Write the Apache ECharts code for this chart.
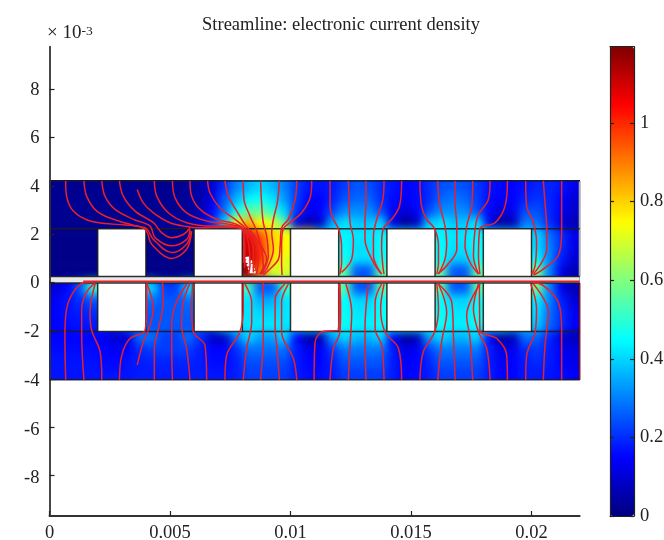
<!DOCTYPE html>
<html><head><meta charset="utf-8">
<style>html,body{margin:0;padding:0;background:#fff}#c{width:664px;height:540px}</style>
<script src="https://cdn.jsdelivr.net/npm/echarts@6/dist/echarts.min.js"></script>
</head><body><div id="c"></div>
<script>
const titleText = 'Streamline: electronic current density';
const xTicks = [0, 5, 10, 15, 20];
const xTickLabels = ['0', '0.005', '0.01', '0.015', '0.02'];
const yTicks = [-8, -6, -4, -2, 0, 2, 4, 6, 8];
const cbTicks = [0, 0.2, 0.4, 0.6, 0.8, 1];
const jet = ['#00007f','#0000ff','#007fff','#00ffff','#7fff7f','#ffff00','#ff7f00','#ff0000','#7f0000'];
const cbMax = 1.194;

// field strength (percent of 1), 0.5 wide cells, one list per row, top to bottom
const rowEdges = [4.2,3.7,3.2,2.7,2.2,1.71,1.23,0.74,0.12,-0.5,-1,-1.5,-2.04,-2.54,-3.04,-3.54,-4.04];
const row01 = [2,2,2,2, 2,2,2,2, 2,2,2,3, 5,10,20,30, 36,40,36,30, 22,17,17,18, 22,25,24,20, 17,15,16,20, 24,25,24,21, 17,15,15,17, 19,19,17,13];
const row02 = [2,2,2,2, 2,2,2,2, 2,2,2,3, 5,12,25,36, 44,46,42,33, 22,15,15,19, 25,27,27,20, 16,14,16,20, 27,29,27,22, 16,14,15,19, 21,19,15,10];
const row03 = [2,2,2,2, 2,2,2,2, 2,2,2,3, 6,14,28,46, 56,56,50,40, 20,13,15,23, 31,32,31,24, 14,10,14,24, 31,32,31,24, 15,10,13,24, 24,19,14,9];
const row04 = [2,2,2,2, 2,2,2,2, 3,3,3,4, 8,20,40,75, 85,75,72,55, 12,5,8,35, 42,38,38,40, 12,2,8,38, 42,38,38,42, 12,3,6,30, 28,20,10,6];
const row05 = [1,1,1,1, 1,1,1,1, 1,1,1,1, 2,2,108,108, 108,95,80,75, 75,75,44,44, 44,42,42,44, 44,44,44,44, 44,42,42,44, 44,44,40,40, 40,28,20,13];
const row06 = [1,1,1,1, 1,1,1,1, 1,1,1,1, 2,2,110,110, 110,100,80,75, 75,75,45,45, 45,41,41,45, 45,45,45,45, 45,41,41,45, 45,45,40,40, 40,30,20,12];
const row07 = [1,1,1,1, 1,1,1,1, 1,1,1,1, 2,2,112,112, 112,100,78,72, 72,72,46,46, 46,41,41,46, 46,46,46,46, 46,39,39,46, 46,46,44,44, 44,30,18,10];
const row08 = [1,1,1,1, 1,1,1,1, 1,1,1,1, 2,2,115,115, 115,90,70,70, 70,70,55,55, 55,25,25,55, 55,55,55,55, 55,25,25,55, 55,55,58,58, 58,30,12,6];
const row09 = [10,15,25,50, 50,50,40,40, 40,22,22,40, 40,40,52,52, 52,25,25,52, 52,52,55,55, 55,25,25,55, 55,55,55,55, 55,25,25,55, 55,55,58,58, 58,30,12,6];
const row10 = [14,17,20,25, 25,25,28,28, 28,25,25,28, 28,28,42,42, 42,35,35,42, 42,42,45,45, 45,40,40,45, 45,45,45,45, 45,40,40,45, 45,45,42,42, 42,30,18,10];
const row11 = [15,17,18,20, 20,20,25,25, 25,25,25,26, 26,26,42,42, 42,40,40,42, 42,42,46,46, 46,42,42,46, 46,46,46,46, 46,42,42,46, 46,46,40,40, 40,28,20,13];
const row12 = [15,16,17,18, 18,18,25,25, 25,25,25,25, 25,25,42,42, 42,42,42,42, 42,42,46,46, 46,43,43,46, 46,46,46,46, 46,43,43,46, 46,46,38,38, 38,27,20,14];
const row13 = [15,15,15,15, 14,8,10,28, 28,22,22,28, 20,8,7,28, 40,33,33,40, 15,4,6,33, 40,36,36,40, 15,3,6,33, 40,36,36,40, 15,3,6,28, 26,19,10,7];
const row14 = [16,16,16,16, 15,14,15,20, 22,22,22,22, 18,15,15,20, 28,28,28,28, 18,13,14,22, 29,29,29,29, 18,12,14,22, 29,29,29,29, 18,12,13,20, 22,18,14,11];
const row15 = [17,17,17,17, 16,15,17,18, 19,19,19,19, 18,16,16,18, 24,24,24,24, 18,15,15,19, 25,25,25,25, 18,14,15,19, 25,25,25,25, 18,14,15,18, 20,18,15,12];
const row16 = [17,17,17,17, 17,17,17,18, 18,18,18,18, 18,17,17,18, 22,22,22,22, 18,16,16,18, 22,22,22,22, 18,15,16,18, 22,22,22,22, 18,15,15,18, 18,17,16,14];
const fieldRows = [row01,row02,row03,row04,row05,row06,row07,row08,row09,row10,row11,row12,row13,row14,row15,row16];

// white blocks [x0, x1, yBottom, yTop]
const windowXs = [[2,4],[6,8],[10,12],[14,16],[18,20]];
const upperSlot = [0.24, 2.22];
const gapSlot = [-0.03, 0.24];
const lowerSlot = [-2.04, -0.03];

const horizontalLevels = [4.2, 2.22, 0.24, -0.03, -2.04, -4.04];
const wallXs = [2,4,6,8,10,12,14,16,18,20];
const gapLine = [[1.4,0.04],[22,0.04]];
const rightTop = [[22,4.2],[22,0.24]];
const rightBottom = [[22,-0.03],[22,-4.04]];
const hotSwirl = [[8.1,1.0],[8.3,1.02],[8.15,0.85],[8.4,0.87],[8.2,0.7],[8.47,0.72],[8.25,0.55],[8.5,0.57],[8.3,0.42],[8.55,0.42]];

const topLines = [
[[0.67,4.2],[0.71,3.57],[0.99,2.95],[1.68,2.54],[2.79,2.4],[3.76,2.3],[4.03,2.12],[4.24,1.58],[5.07,0.99],[5.69,1.37],[5.9,2.12]],
[[1.43,4.2],[1.54,3.57],[1.96,2.95],[2.65,2.61],[3.62,2.33],[4.03,2.22],[4.31,1.78],[5.07,1.23],[5.69,1.58],[5.87,2.12]],
[[2.17,4.2],[2.3,3.57],[2.72,3.02],[3.48,2.61],[4.17,2.33],[4.38,1.85],[5.07,1.51],[5.69,1.78],[5.83,2.2]],
[[2.9,4.2],[3.06,3.57],[3.55,2.95],[4.31,2.47],[4.65,2.06],[5.07,1.85],[5.55,1.98],[5.83,2.26]],
[[3.64,3.84],[3.89,3.29],[4.31,2.88],[5,2.47],[5.69,2.31],[6.25,2.26],[7.2,2.28],[8.02,2.2],[8.06,1.5],[8.05,0.8]],
[[4.35,4.2],[4.45,3.57],[4.93,2.88],[5.69,2.47],[6.8,2.33],[7.77,2.33],[8.04,2.12],[8.1,1.4],[8.1,0.6]],
[[5.1,4.2],[5.21,3.5],[5.69,2.88],[6.52,2.54],[7.49,2.4],[8.04,2.22],[8.25,1.65],[8.32,0.685],[8.25,0.34]],
[[5.83,4.2],[5.9,3.57],[6.25,3.02],[6.94,2.61],[7.77,2.4],[8.18,2.06],[8.46,1.37],[8.46,0.41]],
[[6.56,4.2],[6.66,3.7],[7.07,3.09],[7.7,2.61],[8.11,2.26],[8.46,1.78],[8.67,1.1],[8.6,0.34]],
[[7.28,4.2],[7.42,3.57],[7.77,2.95],[8.11,2.4],[8.6,1.78],[9.01,0.96],[8.73,0.34]],
[[8.04,4.2],[8.07,3.43],[8.32,2.74],[8.6,2.12],[8.8,1.37],[8.87,0.685],[8.73,0.34]],
[[8.76,4.2],[8.8,3.29],[8.87,2.47],[9.01,1.92],[9.08,1.1],[8.8,0.34]],
[[9.54,4.2],[9.45,3.29],[9.29,2.61],[9.22,2.06],[9.29,1.37],[9.01,0.55],[8.8,0.34]],
[[10.26,4.2],[10.19,3.43],[9.91,2.61],[9.63,2.26],[9.57,1.51],[9.5,0.96],[9.15,0.55],[8.87,0.3]],
[[10.88,4.2],[10.81,3.5],[10.46,2.88],[9.98,2.47],[9.7,2.22],[9.63,1.51],[9.63,0.8],[9.65,0.3]],
[[11.64,4.2],[11.64,3.15],[11.78,2.61],[11.99,2.22],[12.12,1.51],[12.12,0.82],[12.05,0.34]],
[[12.4,4.2],[12.44,3.29],[12.47,2.47],[12.61,1.78],[12.54,0.96],[12.12,0.41]],
[[13.13,4.2],[13.13,3.29],[13.09,2.47],[13.09,1.78],[13.44,0.82],[13.78,0.34]],
[[13.88,4.2],[13.83,3.43],[13.58,2.61],[13.44,1.92],[13.44,1.1],[13.78,0.34]],
[[14.61,4.2],[14.52,3.15],[14.2,2.61],[13.85,2.22],[13.78,1.51],[13.83,0.685],[13.88,0.34]],
[[15.37,4.2],[15.44,3.15],[15.65,2.61],[15.98,2.22],[16.14,1.51],[16.14,0.82],[16.07,0.34]],
[[16.11,4.2],[16.18,3.29],[16.41,2.33],[16.48,1.65],[16.41,0.96],[16.14,0.34]],
[[16.83,4.2],[16.83,3.29],[16.9,2.33],[16.9,1.37],[16.48,0.685],[16.14,0.37]],
[[17.56,4.2],[17.52,3.15],[17.31,2.33],[17.24,1.51],[17.45,0.82],[17.8,0.34]],
[[18.28,4.2],[18.21,3.43],[17.8,2.81],[17.66,2.22],[17.59,1.1],[17.8,0.34]],
[[19,4.2],[18.9,3.15],[18.49,2.47],[17.86,2.22],[17.8,1.1],[17.86,0.34]],
[[19.76,4.2],[19.8,3.15],[20.08,2.47],[20.21,1.65],[20.15,0.685],[20.01,0.34]],
[[20.49,4.2],[20.56,3.29],[20.63,2.22],[20.63,1.37],[20.08,0.34]],
[[21.25,4.2],[21.25,3.29],[21.25,2.06],[21.11,1.1],[20.49,0.55],[20.08,0.3]]
];
const bottomLines = [
[[0.67,-4.04],[0.64,-2.2],[0.71,-1.1],[0.99,-0.41],[1.4,-0.03],[1.82,0]],
[[1.43,-4.04],[1.335,-2.2],[1.335,-1.1],[1.54,-0.41],[1.89,-0.03]],
[[2.17,-4.04],[2.1,-2.88],[1.75,-1.99],[1.68,-1.24],[1.89,-0.07]],
[[2.9,-4.04],[3.0,-3.02],[3.34,-2.33],[3.96,-2.0],[4.03,-1.1],[4.03,-0.07]],
[[3.64,-3.43],[3.89,-2.47],[4.1,-1.99],[4.31,-1.1],[4.03,-0.03]],
[[4.35,-4.04],[4.35,-2.74],[4.52,-1.92],[4.72,-0.82],[4.69,-0.03]],
[[5.1,-4.04],[5.07,-2.74],[5.07,-1.78],[5.21,-0.96],[5.69,-0.07]],
[[5.83,-4.04],[5.69,-2.74],[5.48,-1.78],[5.55,-0.82],[5.83,-0.03]],
[[6.52,-4.04],[6.45,-2.61],[5.97,-2.06],[5.9,-1.1],[5.94,-0.07]],
[[7.28,-4.04],[7.35,-3.02],[7.9,-2.06],[8.04,-1.1],[8.04,-0.07]],
[[8.04,-4.04],[8.18,-2.74],[8.39,-1.65],[8.39,-0.82],[8.11,-0.07]],
[[8.76,-4.04],[8.87,-2.2],[8.87,-0.03]],
[[9.54,-4.04],[9.45,-2.88],[9.36,-1.78],[9.36,-0.69],[9.77,-0.07]],
[[10.26,-4.04],[10.12,-3.16],[9.63,-2.06],[9.63,-0.82],[9.91,-0.07]],
[[10.98,-4.04],[11.02,-2.47],[11.36,-2.03],[11.98,-1.98],[12.02,-0.5],[12.0,-0.07]],
[[11.64,-4.04],[11.78,-2.74],[12.05,-2.06],[12.08,-1.1],[12.05,-0.07]],
[[12.4,-4.04],[12.47,-2.61],[12.54,-1.24],[12.3,-0.07]],
[[13.13,-4.04],[13.09,-1.92],[13.23,-0.07]],
[[13.88,-4.04],[13.78,-2.61],[13.51,-1.92],[13.51,-0.82],[13.78,-0.07]],
[[14.61,-4.04],[14.48,-2.74],[13.92,-2.06],[13.74,-1.1],[13.88,-0.07]],
[[15.37,-4.04],[15.51,-2.88],[15.98,-2.06],[16.14,-1.1],[16.07,-0.07]],
[[16.11,-4.04],[16.27,-2.47],[16.48,-1.24],[16.14,-0.07]],
[[16.83,-4.04],[16.76,-2.2],[16.69,-0.82],[16.14,-0.07]],
[[17.56,-4.04],[17.45,-2.33],[17.31,-1.37],[17.45,-0.82],[17.86,-0.07]],
[[18.28,-4.04],[18.14,-2.74],[17.8,-2.06],[17.59,-1.1],[17.8,-0.07]],
[[19,-4.04],[18.97,-3.02],[18.56,-2.33],[17.86,-1.99],[17.84,-0.07]],
[[19.76,-4.04],[19.8,-3.02],[20.15,-2.06],[20.21,-1.1],[19.97,-0.07]],
[[20.49,-4.04],[20.56,-2.61],[20.7,-1.24],[20.08,-0.07]],
[[21.25,-4.04],[21.25,-1.92],[21.11,-0.82],[20.49,-0.14],[20.01,0]]
];

const cellW = 0.5;
const font = '"Liberation Serif","Times New Roman",serif';
const ink = '#222';
const red = '#e8202a';

const fieldCells = [];
fieldRows.forEach((row, r) => row.forEach((v, c) => {
  fieldCells.push([c * cellW, (c + 1) * cellW, rowEdges[r + 1], rowEdges[r], v / 100, r, c]);
}));
const whiteBlocks = [];
windowXs.forEach(w => {
  whiteBlocks.push([w[0], w[1], upperSlot[0], upperSlot[1]]);
  whiteBlocks.push([w[0], w[1], lowerSlot[0], lowerSlot[1]]);
});
const gapFill = [[0, 22, gapSlot[0], gapSlot[1]]];
const frameSegs = [];
horizontalLevels.forEach(y => frameSegs.push([0, y, 22, y]));
wallXs.forEach(x => {
  frameSegs.push([x, upperSlot[0], x, upperSlot[1]]);
  frameSegs.push([x, lowerSlot[0], x, lowerSlot[1]]);
});

const rectOf = (api, x0, x1, y0, y1) => {
  const a = api.coord([x0, y1]), b = api.coord([x1, y0]);
  return { x: a[0], y: a[1], width: b[0] - a[0], height: b[1] - a[1] };
};
const PAD = 16;
const lineSeries = (data, color, width, z, smooth) => ({
  type: 'line', xAxisIndex: 0, yAxisIndex: 0, data, symbol: 'none', silent: true, animation: false,
  smooth: smooth ? 0.35 : false, z, lineStyle: { color, width }, clip: true
});
const rectSeries = (data, fill, z) => ({
  type: 'custom', xAxisIndex: 0, yAxisIndex: 0, silent: true, z, animation: false, clip: false,
  data, encode: { x: [0, 1], y: [2, 3] },
  renderItem: (params, api) => ({ type: 'rect',
    shape: rectOf(api, api.value(0), api.value(1), api.value(2), api.value(3)),
    style: { fill } })
});
const barAxisLine = { onZero: false, lineStyle: { color: ink, width: 1.2 } };
const dropToken = v => v > 0 ? 'a' : v === 0 ? 'b' : v > -5 ? 'c' : v > -7 ? 'd' : 'e';
const labelRich = k => ({ fontFamily: font, fontSize: 18.5, color: ink, padding: [k, 0, 0, 0] });

const chart = echarts.init(document.getElementById('c'), null, { renderer: 'canvas' });
chart.setOption({
  animation: false,
  backgroundColor: 'transparent',
  title: [
    { text: titleText, left: 336, top: 11, textAlign: 'center',
      textStyle: { fontFamily: font, fontSize: 18.5, fontWeight: 'normal', color: ink } },
    { text: '× 10{s|-3}', left: 42, top: 19,
      textStyle: { fontFamily: font, fontSize: 19, fontWeight: 'normal', color: ink,
        rich: { s: { fontFamily: font, fontSize: 13.5, color: ink, verticalAlign: 'top', lineHeight: 16, padding: [0,0,7,0] } } } }
  ],
  grid: [
    { left: 49.5, top: 46.7, width: 530.2, height: 469.3, outerBoundsMode: 'none' },
    { left: 610, top: 46.7, width: 24, height: 469.3, outerBoundsMode: 'none' }
  ],
  xAxis: [
    { type: 'value', gridIndex: 0, min: 0, max: 22, splitLine: { show: false },
      axisLine: { onZero: false, lineStyle: { color: '#333', width: 1.8 } },
      axisTick: { inside: true, length: 5, customValues: xTicks, lineStyle: { color: ink, width: 1.2 } },
      axisLabel: { customValues: xTicks, margin: 8, fontFamily: font, fontSize: 18.5, color: ink,
        formatter: v => xTickLabels[xTicks.indexOf(v)] }, z: 10 },
    { type: 'value', gridIndex: 1, min: 0, max: 1, position: 'bottom', axisLine: barAxisLine,
      axisTick: { show: false }, axisLabel: { show: false }, splitLine: { show: false }, z: 10 },
    { type: 'value', gridIndex: 1, min: 0, max: 1, position: 'top', axisLine: barAxisLine,
      axisTick: { show: false }, axisLabel: { show: false }, splitLine: { show: false }, z: 10 }
  ],
  yAxis: [
    { type: 'value', gridIndex: 0, min: -9.68, max: 9.76, splitLine: { show: false },
      axisLine: { onZero: false, lineStyle: { color: '#333', width: 1.8 } },
      axisTick: { inside: true, length: 5, customValues: yTicks, lineStyle: { color: ink, width: 1.2 } },
      axisLabel: { customValues: yTicks, margin: 10, fontFamily: font, fontSize: 18.5, color: ink,
        formatter: v => { const n = Math.round(v); return `{${dropToken(n)}|${n}}`; },
        rich: { a: labelRich(2), b: labelRich(2), c: labelRich(4), d: labelRich(6), e: labelRich(6) } }, z: 10 },
    { type: 'value', gridIndex: 1, min: 0, max: cbMax, position: 'right', splitLine: { show: false },
      axisLine: barAxisLine,
      axisTick: { inside: true, length: 4, customValues: cbTicks, lineStyle: { color: ink, width: 1.2 } },
      axisLabel: { customValues: cbTicks, margin: 6, fontFamily: font, fontSize: 18.5, color: ink,
        formatter: v => String(Math.round(v * 10) / 10) }, z: 10 },
    { type: 'value', gridIndex: 1, min: 0, max: cbMax, position: 'left', splitLine: { show: false },
      axisLine: barAxisLine,
      axisTick: { inside: true, length: 4, customValues: cbTicks, lineStyle: { color: ink, width: 1.2 } },
      axisLabel: { show: false }, z: 10 }
  ],
  visualMap: {
    type: 'continuous', seriesIndex: 0, dimension: 4, min: 0, max: cbMax, calculable: false, hoverLink: false,
    left: 610, top: 46.7, itemWidth: 24, itemHeight: 469.3, padding: 0, text: null, showLabel: false,
    inRange: { color: jet }
  },
  series: [
    { type: 'custom', xAxisIndex: 0, yAxisIndex: 0, zlevel: -1, silent: true, clip: false, animation: false,
      data: fieldCells, encode: { x: [0, 1], y: [2, 3] },
      renderItem: (params, api) => {
        const r = rectOf(api, api.value(0), api.value(1), api.value(2), api.value(3));
        const row = api.value(5), col = api.value(6);
        if (row === 0) { r.y -= PAD; r.height += PAD; }
        if (row === fieldRows.length - 1) r.height += PAD;
        if (col === 0) { r.x -= PAD; r.width += PAD; }
        if (col === fieldRows[0].length - 1) r.width += PAD;
        r.width += 0.5; r.height += 0.5;
        return { type: 'rect', shape: r, style: { fill: api.visual('color') } };
      } },
    rectSeries(whiteBlocks, '#fff', 3),
    rectSeries(gapFill, '#e9e9e9', 3),
    lineSeries(gapLine, red, 1.6, 4),
    lineSeries(rightTop, '#aaa', 2, 4),
    lineSeries(rightBottom, '#8a0f14', 1.5, 4),
    { type: 'custom', xAxisIndex: 0, yAxisIndex: 0, silent: true, z: 5, animation: false, clip: false,
      data: frameSegs, encode: { x: [0, 2], y: [1, 3] },
      renderItem: (params, api) => {
        const a = api.coord([api.value(0), api.value(1)]), b = api.coord([api.value(2), api.value(3)]);
        return { type: 'line', shape: { x1: a[0], y1: a[1], x2: b[0], y2: b[1] },
          style: { stroke: '#1c1c1c', lineWidth: 1.5, opacity: 0.9 } };
      } },
    lineSeries(hotSwirl, '#fff', 2.2, 6),
    ...topLines.map(d => lineSeries(d, red, 1.5, 7, true)),
    ...bottomLines.map(d => lineSeries(d, red, 1.5, 7, true))
  ]
});

const fieldCanvas = document.querySelector('canvas[data-zr-dom-id="zr_-1"]') || document.querySelectorAll('#c canvas')[0];
const tl = chart.convertToPixel({ gridIndex: 0 }, [0, horizontalLevels[0]]);
const br = chart.convertToPixel({ gridIndex: 0 }, [22, horizontalLevels[horizontalLevels.length - 1]]);
fieldCanvas.style.filter = 'blur(4px)';
fieldCanvas.style.clipPath = `polygon(${tl[0]}px ${tl[1]}px, ${br[0]}px ${tl[1]}px, ${br[0]}px ${br[1]}px, ${tl[0]}px ${br[1]}px)`;
</script></body></html>
